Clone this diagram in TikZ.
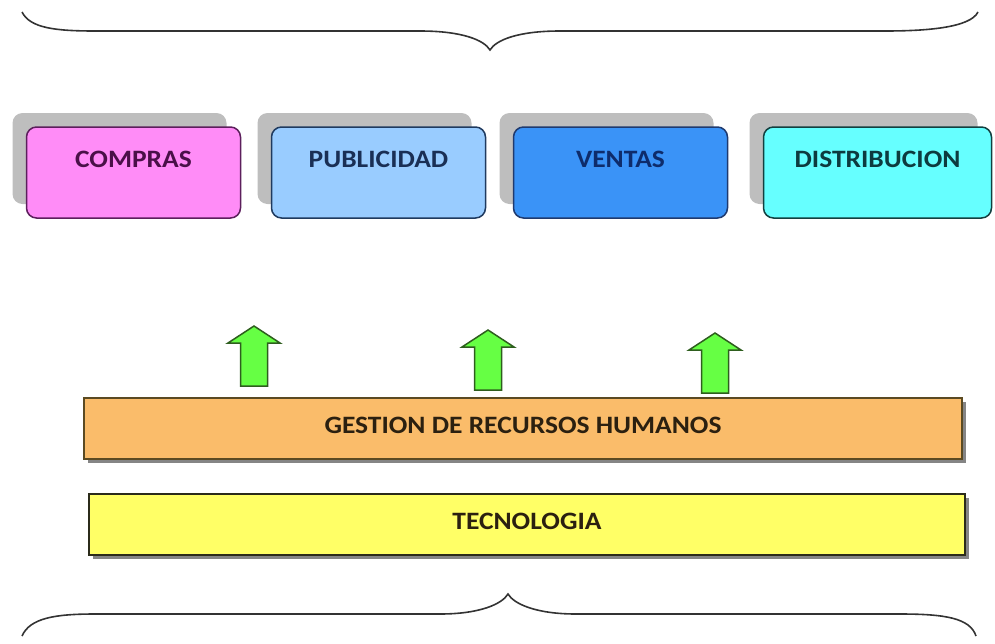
\documentclass[tikz,border=0pt]{standalone}
\usepackage{fontspec}
\setmainfont{Carlito}
\newfontfamily\boxfont{Carlito}[FakeStretch=1.1]
\usepackage{tikz}
\usetikzlibrary{positioning,shadows}

\definecolor{comprasfill}{HTML}{FF8CF7}
\definecolor{comprasline}{HTML}{5C1F5C}
\definecolor{comprastext}{HTML}{4A1048}
\definecolor{publifill}{HTML}{99CCFF}
\definecolor{publiline}{HTML}{1F3A5F}
\definecolor{publitext}{HTML}{1A2F55}
\definecolor{ventasfill}{HTML}{3A93F7}
\definecolor{ventasline}{HTML}{1F3A6F}
\definecolor{ventastext}{HTML}{0E2C6B}
\definecolor{distfill}{HTML}{66FFFF}
\definecolor{distline}{HTML}{134040}
\definecolor{disttext}{HTML}{0D3B3F}
\definecolor{shadowgray}{HTML}{BEBEBE}
\definecolor{rrhhfill}{HTML}{FABC6A}
\definecolor{rrhhline}{HTML}{5B4A22}
\definecolor{tecfill}{HTML}{FFFF66}
\definecolor{tecline}{HTML}{2B2B1A}
\definecolor{bartext}{HTML}{2B2010}
\definecolor{arrowgreen}{HTML}{66FF44}
\definecolor{arrowline}{HTML}{2E5E1E}
\definecolor{braceline}{HTML}{333333}

\begin{document}
\begin{tikzpicture}[x=0.5pt,y=-0.5pt,
    area/.style={draw, line width=0.75pt, rounded corners=5pt, outer sep=0pt,
        minimum width=107pt, minimum height=45.5pt,
        text height=8pt, text depth=13pt,
        font=\boxfont\bfseries\fontsize{12.5}{15}\selectfont,
        drop shadow={shadow xshift=-7pt, shadow yshift=7pt, fill=shadowgray, opacity=1}},
    layer/.style={draw, line width=0.75pt, minimum height=30.5pt, outer sep=0pt,
        text height=8pt, text depth=3.5pt, text=bartext,
        font=\boxfont\bfseries\fontsize{12.5}{15}\selectfont,
        drop shadow={shadow xshift=2pt, shadow yshift=-2pt, fill=black!60, opacity=.8}},
    uparrow/.style={fill=arrowgreen, draw=arrowline, line width=0.75pt, line join=miter},
    brace/.style={draw=braceline, line width=0.8pt}]
    \useasboundingbox (0,0) rectangle (995,643);

    \draw[brace] (22,12) .. controls (30,28) and (55,31) .. (95,31) -- (420,31)
        .. controls (462,31) and (484,40) .. (490,50)
        .. controls (496,40) and (518,31) .. (560,31) -- (885,31)
        .. controls (925,31) and (970,28) .. (978,12);

    \node[area, fill=comprasfill, draw=comprasline, text=comprastext] (compras) at (133.5,172.5) {COMPRAS};
    \node[area, fill=publifill, draw=publiline, text=publitext, right=15.5pt of compras] (publicidad) {PUBLICIDAD};
    \node[area, fill=ventasfill, draw=ventasline, text=ventastext, right=14pt of publicidad] (ventas) {VENTAS};
    \node[area, fill=distfill, draw=distline, text=disttext, minimum width=114pt, right=18pt of ventas] (distribucion) {DISTRIBUCION};

    \foreach \ax/\ay in {254/326, 488/330, 715/333}
        \draw[uparrow] (\ax,\ay) -- ++(26,17) -- ++(-12.5,0) -- ++(0,43) -- ++(-27,0)
            -- ++(0,-43) -- ++(-12.5,0) -- cycle;

    \node[layer, fill=rrhhfill, draw=rrhhline, minimum width=439pt] (rrhh) at (523,428.5) {GESTION DE RECURSOS HUMANOS};
    \node[layer, fill=tecfill, draw=tecline, minimum width=438pt, below=17.5pt of rrhh, xshift=2pt] (tecnologia) {TECNOLOGIA};

    \draw[brace] (22,636) .. controls (30,618) and (55,614) .. (95,614) -- (440,614)
        .. controls (480,614) and (502,604) .. (508,594)
        .. controls (514,604) and (536,614) .. (576,614) -- (900,614)
        .. controls (945,614) and (970,618) .. (976,636);
\end{tikzpicture}
\end{document}
